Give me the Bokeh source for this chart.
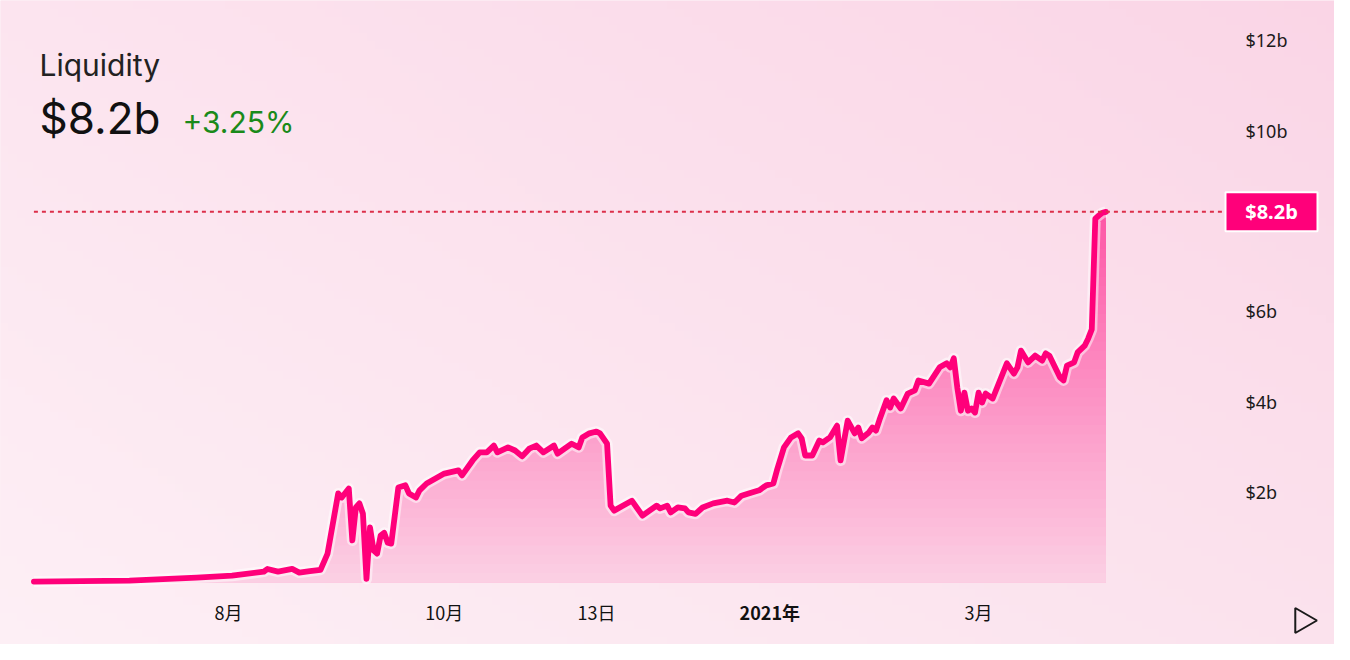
import numpy as np
import pandas as pd
from bokeh.plotting import figure
from bokeh.models import Range1d, Label
from bokeh.embed import file_html
from bokeh.resources import INLINE
from bokeh.core.properties import value

# ---------------- data ----------------
dates = [
    "2020-06-07", "2020-07-04", "2020-07-23", "2020-08-02", "2020-08-11", "2020-08-12",
    "2020-08-15", "2020-08-19", "2020-08-21", "2020-08-24", "2020-08-27", "2020-08-29",
    "2020-09-01", "2020-09-02", "2020-09-04", "2020-09-05", "2020-09-06", "2020-09-07",
    "2020-09-08", "2020-09-09", "2020-09-10", "2020-09-11", "2020-09-12", "2020-09-13",
    "2020-09-14", "2020-09-15", "2020-09-16", "2020-09-18", "2020-09-20", "2020-09-21",
    "2020-09-23", "2020-09-24", "2020-09-26", "2020-10-01", "2020-10-05", "2020-10-06",
    "2020-10-09", "2020-10-11", "2020-10-13", "2020-10-15", "2020-10-16", "2020-10-19",
    "2020-10-21", "2020-10-23", "2020-10-25", "2020-10-27", "2020-10-29", "2020-11-01",
    "2020-11-02", "2020-11-06", "2020-11-08", "2020-11-09", "2020-11-11", "2020-11-13",
    "2020-11-14", "2020-11-16", "2020-11-17", "2020-11-18", "2020-11-23", "2020-11-26",
    "2020-11-30", "2020-12-01", "2020-12-03", "2020-12-04", "2020-12-06", "2020-12-08",
    "2020-12-09", "2020-12-11", "2020-12-13", "2020-12-16", "2020-12-20", "2020-12-22",
    "2020-12-24", "2020-12-26", "2020-12-29", "2020-12-31", "2021-01-02", "2021-01-03",
    "2021-01-05", "2021-01-07", "2021-01-09", "2021-01-10", "2021-01-11", "2021-01-13",
    "2021-01-15", "2021-01-16", "2021-01-18", "2021-01-20", "2021-01-21", "2021-01-22",
    "2021-01-23", "2021-01-25", "2021-01-26", "2021-01-27", "2021-01-29", "2021-01-30",
    "2021-01-31", "2021-02-01", "2021-02-03", "2021-02-04", "2021-02-05", "2021-02-07",
    "2021-02-09", "2021-02-11", "2021-02-12", "2021-02-15", "2021-02-18", "2021-02-20",
    "2021-02-21", "2021-02-22", "2021-02-23", "2021-02-24", "2021-02-25", "2021-02-26",
    "2021-02-27", "2021-02-28", "2021-03-01", "2021-03-02", "2021-03-03", "2021-03-05",
    "2021-03-09", "2021-03-11", "2021-03-12", "2021-03-13", "2021-03-15", "2021-03-17",
    "2021-03-19", "2021-03-20", "2021-03-21", "2021-03-24", "2021-03-25", "2021-03-26",
    "2021-03-28", "2021-03-29", "2021-03-31", "2021-04-01", "2021-04-02", "2021-04-03",
    "2021-04-04", "2021-04-05", "2021-04-06",
]
liquidity_b = [
    0.02, 0.04, 0.11, 0.15, 0.24, 0.30,
    0.24, 0.30, 0.22, 0.25, 0.28, 0.64,
    1.97, 1.88, 2.08, 0.93, 1.66, 1.75,
    1.52, 0.08, 1.22, 0.71, 0.64, 1.04,
    1.10, 0.88, 0.86, 2.10, 2.15, 1.97,
    1.88, 2.04, 2.19, 2.41, 2.48, 2.37,
    2.70, 2.88, 2.88, 3.03, 2.88, 2.99,
    2.92, 2.79, 2.96, 3.03, 2.88, 3.03,
    2.85, 3.07, 2.99, 3.21, 3.30, 3.34,
    3.30, 3.07, 1.70, 1.59, 1.81, 1.48,
    1.70, 1.64, 1.70, 1.55, 1.66, 1.64,
    1.55, 1.52, 1.66, 1.75, 1.81, 1.77,
    1.92, 1.97, 2.04, 2.15, 2.19, 2.48,
    2.99, 3.21, 3.30, 3.19, 2.81, 2.81,
    3.14, 3.10, 3.21, 3.47, 2.70, 3.14,
    3.58, 3.30, 3.43, 3.19, 3.32, 3.43,
    3.36, 3.60, 4.03, 3.87, 4.07, 3.85,
    4.18, 4.25, 4.47, 4.40, 4.76, 4.85,
    4.76, 4.96, 4.31, 3.80, 4.20, 3.80,
    3.85, 3.76, 4.20, 3.98, 4.18, 4.07,
    4.85, 4.62, 4.76, 5.13, 4.87, 5.02,
    4.91, 5.07, 5.02, 4.54, 4.47, 4.80,
    4.87, 5.09, 5.24, 5.40, 5.60, 8.05,
    8.12, 8.18, 8.20,
]
x_tick_dates = ["2020-08-01", "2020-10-01", "2020-11-13", "2021-01-01", "2021-03-01"]
x_tick_labels = ["8月", "10月", "13日", "2021年", "3月"]
bold_x_label = "2021年"
y_ticks = [2, 4, 6, 10, 12]
y_tick_labels = ["$2b", "$4b", "$6b", "$10b", "$12b"]
current_value = 8.2
current_label = "$8.2b"
header_title = "Liquidity"
header_value = "$8.2b"
header_change = "+3.25%"

# ---------------- layout / styling ----------------
W, H = 1334, 644
ANCHOR = pd.Timestamp("2020-08-01")
X0_PX, PX_PER_DAY = 228.0, 3.538     # screen position of ANCHOR, pixels per day
Y0_PX, PX_PER_B = 582.0, 45.2        # screen position of $0, pixels per $1b


def px_to_date(px):
    return ANCHOR + pd.Timedelta(days=(px - X0_PX) / PX_PER_DAY)


def py_to_val(py):
    return (Y0_PX - py) / PX_PER_B


BG = "#fbe0ec"
PINK = "#ff007a"

x = pd.to_datetime(dates)
v = np.array(liquidity_b)

x_range = Range1d(px_to_date(0), px_to_date(W))
y_range = Range1d(py_to_val(H), py_to_val(0))

p = figure(
    width=W, height=H, x_axis_type="datetime",
    x_axis_location=None, y_axis_location=None,
    output_backend="svg", toolbar_location=None,
    x_range=x_range, y_range=y_range, min_border=0,
)
p.background_fill_color = BG
p.border_fill_color = BG
p.outline_line_color = None
p.grid.visible = False

# soft diagonal background gradient
gw, gh = 160, 80
u = np.linspace(0, 1, gw)[None, :]
t = np.linspace(0, 1, gh)[:, None]      # 0 = bottom, 1 = top
TL, TR = np.array([252, 228, 239]), np.array([250, 213, 230])
BL, BR = np.array([253, 239, 245]), np.array([251, 226, 237])
img = np.empty((gh, gw), dtype=np.uint32)
view = img.view(dtype=np.uint8).reshape((gh, gw, 4))
for c in range(3):
    top = TL[c] * (1 - u) + TR[c] * u
    bot = BL[c] * (1 - u) + BR[c] * u
    view[:, :, c] = np.round(bot * (1 - t) + top * t).astype(np.uint8)
view[:, :, 3] = 255
span_ms = (x_range.end - x_range.start).total_seconds() * 1000
p.image_rgba(image=[img], x=x_range.start, y=y_range.start, dw=span_ms,
             dh=y_range.end - y_range.start)


def mix(a):
    bg = np.array([int(BG[i:i + 2], 16) for i in (1, 3, 5)], float)
    pk = np.array([int(PINK[i:i + 2], 16) for i in (1, 3, 5)], float)
    c = bg * (1 - a) + pk * a
    return "#%02x%02x%02x" % tuple(int(round(q)) for q in c)


# gradient area under the line: stacked layers, most saturated first
vmax = v.max()
n_bands = 40
for k in range(n_bands, 0, -1):
    hi = vmax * k / n_bands
    frac = (k - 0.5) / n_bands
    p.varea(x=x, y1=np.zeros_like(v), y2=np.minimum(v, hi), fill_color=mix(0.07 + 0.55 * frac))

# line with soft halo
p.line(x, v, line_color="white", line_width=11, line_alpha=0.5, line_join="round")
p.line(x, v, line_color=PINK, line_width=5.8, line_join="round", line_cap="round")

# current value dotted guide
p.segment(x0=[x[0]], y0=[current_value], x1=[px_to_date(1225)], y1=[current_value],
          line_color="#dc2f4a", line_dash="4 4", line_width=2)

# y tick labels (right side)
p.text(x=[px_to_date(1245)] * len(y_ticks), y=y_ticks, text=y_tick_labels,
       text_align="left", text_baseline="middle", text_font=value("Noto Sans"),
       text_font_size="18px", text_color="#1a1a1a")

# x tick labels
xl_y = py_to_val(611)
reg = [(d, lab) for d, lab in zip(x_tick_dates, x_tick_labels) if lab != bold_x_label]
bold = [(d, lab) for d, lab in zip(x_tick_dates, x_tick_labels) if lab == bold_x_label]
p.text(x=pd.to_datetime([d for d, _ in reg]), y=[xl_y] * len(reg), text=[lab for _, lab in reg],
       text_align="center", text_baseline="middle", text_font=value("Noto Sans CJK SC"),
       text_font_size="18px", text_color="#111111")
p.text(x=pd.to_datetime([d for d, _ in bold]), y=[xl_y] * len(bold), text=[lab for _, lab in bold],
       text_align="center", text_baseline="middle", text_font=value("Noto Sans CJK SC"),
       text_font_style="bold", text_font_size="18px", text_color="#111111")

# current value tag
tag_x = px_to_date(1271)
p.rect(x=[tag_x], y=[current_value], width=92, height=39, width_units="screen",
       height_units="screen", fill_color=PINK, line_color="white", line_width=2)
p.text(x=[tag_x], y=[current_value], text=[current_label], text_align="center",
       text_baseline="middle", text_font=value("Noto Sans"), text_font_style="bold",
       text_font_size="20px", text_color="white")

# play button
p.scatter(x=[px_to_date(1302)], y=[py_to_val(620)], marker="triangle", angle=-np.pi / 2,
          size=25, fill_color=None, line_color="#1a1a1a", line_width=2)

# header
p.add_layout(Label(x=39, y=H - 64, x_units="screen", y_units="screen", text=header_title,
                   text_font="Inter", text_font_size="30px", text_color="#222222",
                   text_baseline="middle"))
p.add_layout(Label(x=39, y=H - 117, x_units="screen", y_units="screen", text=header_value,
                   text_font="Inter", text_font_size="44px", text_color="#111111",
                   text_baseline="middle"))
p.add_layout(Label(x=182, y=H - 121, x_units="screen", y_units="screen", text=header_change,
                   text_font="Inter", text_font_size="30px", text_color="#1a8a1a",
                   text_baseline="middle"))

open("out.html", "w").write(file_html(p, INLINE))
